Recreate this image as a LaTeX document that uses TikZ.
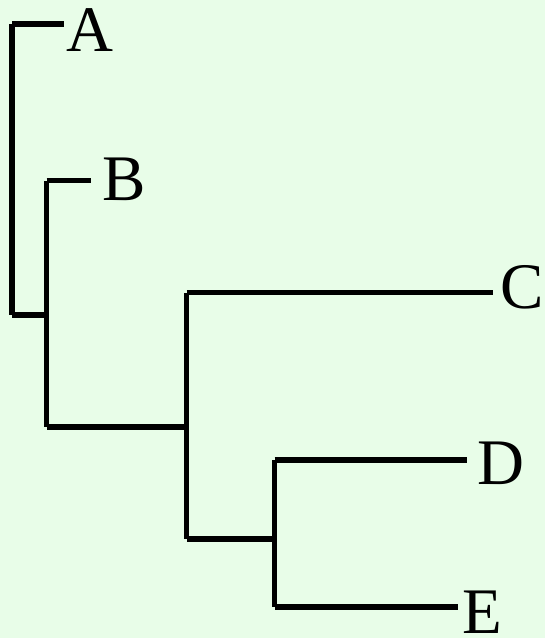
\documentclass[tikz,border=0pt]{standalone}
\usepackage{fontspec}
\setmainfont{Liberation Serif}
\definecolor{bgc}{HTML}{E8FDE8}
\tikzset{
  branch/.style={line width=5.5pt, line cap=butt, black},
  leaf/.style={anchor=base west, inner sep=0pt, font=\fontsize{65}{65}\selectfont}
}
\begin{document}
\begin{tikzpicture}[x=1pt,y=-1pt]
\fill[bgc] (0,0) rectangle (545,638);
\useasboundingbox (0,0) rectangle (545,638);
% tips
\coordinate (tA) at (64,24);
\coordinate (tB) at (91,180.5);
\coordinate (tC) at (493,292.5);
\coordinate (tD) at (467,460);
\coordinate (tE) at (458,607);
% corners and joints
\coordinate (cA) at (12,24);
\coordinate (r) at (12,315);
\coordinate (m1) at (46.5,315);
\coordinate (cB) at (46.5,180.5);
\coordinate (b1) at (46.5,427);
\coordinate (m2) at (186.5,427);
\coordinate (cC) at (186.5,292.5);
\coordinate (c1) at (186.5,539);
\coordinate (m3) at (274.5,539);
\coordinate (cD) at (274.5,460);
\coordinate (d1) at (274.5,607);
% labels
\node[leaf] (A) at (66,51) {A};
\node[leaf] (B) at (102,200) {B};
\node[leaf] (C) at (500,308) {C};
\node[leaf] (D) at (477,484) {D};
\node[leaf] (E) at (462,633) {E};
% branches
\draw[branch] (cA) -- (tA);
\draw[branch] (cA) -- (r);
\draw[branch] (r) -- (m1);
\draw[branch] (cB) -- (tB);
\draw[branch] (cB) -- (b1);
\draw[branch] (b1) -- (m2);
\draw[branch] (cC) -- (tC);
\draw[branch] (cC) -- (c1);
\draw[branch] (c1) -- (m3);
\draw[branch] (cD) -- (tD);
\draw[branch] (cD) -- (d1);
\draw[branch] (d1) -- (tE);
\end{tikzpicture}
\end{document}
